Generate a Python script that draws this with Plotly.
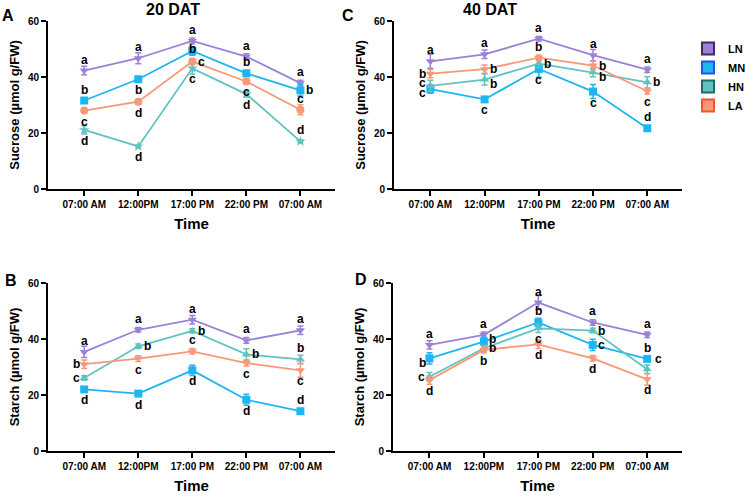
import plotly.graph_objects as go

# time points
times = ["07:00 AM", "12:00PM", "17:00 PM", "22:00 PM", "07:00 AM"]
xpos = [0, 1, 2, 3, 4]

treatments = ["LN", "MN", "HN", "LA"]
line_colors = {"LN": "#9b82d6", "MN": "#1eb6f2", "HN": "#62c2c2", "LA": "#f89878"}
edge_colors = {"LN": "#3b2a66", "MN": "#1f55e0", "HN": "#1e6b6b", "LA": "#f0562a"}

# A - sucrose, 20 DAT
sucA_LN = [42.3, 46.7, 52.9, 47.3, 37.8]
sucA_MN = [31.6, 39.2, 49.3, 41.3, 35.2]
sucA_HN = [21.1, 15.2, 43.1, 33.9, 17.0]
sucA_LA = [28.0, 31.2, 45.5, 38.4, 28.3]
errA_LN = [1.5, 2.0, 1.0, 1.0, 1.0]
errA_MN = [0.8, 0.8, 1.5, 1.0, 2.0]
errA_HN = [1.5, 0.5, 2.0, 1.0, 0.5]
errA_LA = [0.8, 0.8, 1.0, 1.0, 1.8]
letA_LN = ["a", "a", "a", "a", "a"]
letA_MN = ["b", "b", "b", "b", "b"]
letA_HN = ["d", "d", "c", "d", "d"]
letA_LA = ["c", "d", "c", "c", "c"]

# C - sucrose, 40 DAT
sucC_LN = [45.6, 48.1, 53.7, 47.8, 42.6]
sucC_MN = [35.7, 32.0, 42.9, 34.8, 21.7]
sucC_HN = [36.8, 39.1, 44.8, 41.6, 38.1]
sucC_LA = [41.2, 42.8, 46.9, 44.1, 34.9]
errC_LN = [2.5, 1.5, 0.8, 2.0, 1.0]
errC_MN = [1.5, 0.8, 3.0, 2.5, 0.8]
errC_HN = [2.0, 2.0, 1.5, 1.5, 2.0]
errC_LA = [1.5, 1.5, 1.0, 1.5, 1.0]
letC_LN = ["a", "a", "a", "a", "a"]
letC_MN = ["c", "c", "c", "c", "d"]
letC_HN = ["c", "b", "b", "b", "b"]
letC_LA = ["b", "b", "b", "b", "c"]

# B - starch, 20 DAT
staB_LN = [35.4, 43.3, 46.9, 39.5, 43.1]
staB_MN = [22.0, 20.5, 28.8, 18.3, 14.2]
staB_HN = [26.1, 37.4, 42.9, 34.5, 32.7]
staB_LA = [31.0, 33.0, 35.6, 31.4, 28.8]
errB_LN = [2.0, 0.8, 1.5, 1.0, 1.5]
errB_MN = [0.8, 0.8, 1.8, 2.0, 0.8]
errB_HN = [0.8, 0.8, 0.8, 2.0, 1.5]
errB_LA = [1.5, 1.0, 1.0, 1.0, 2.5]
letB_LN = ["a", "a", "a", "a", "a"]
letB_MN = ["d", "d", "d", "d", "d"]
letB_HN = ["c", "b", "b", "b", "b"]
letB_LA = ["b", "c", "c", "c", "c"]

# D - starch, 40 DAT
staD_LN = [37.9, 41.5, 53.0, 45.9, 41.5]
staD_MN = [33.1, 39.1, 45.9, 37.9, 32.9]
staD_HN = [26.5, 36.7, 43.8, 43.0, 29.2]
staD_LA = [25.3, 36.1, 38.1, 33.1, 25.6]
errD_LN = [1.5, 1.0, 2.5, 1.0, 1.0]
errD_MN = [2.0, 1.5, 1.5, 2.0, 0.8]
errD_HN = [1.5, 1.0, 1.5, 0.8, 1.5]
errD_LA = [1.5, 1.0, 1.5, 1.0, 2.0]
letD_LN = ["a", "a", "a", "a", "a"]
letD_MN = ["b", "b", "b", "c", "b"]
letD_HN = ["c", "b", "c", "b", "c"]
letD_LA = ["d", "b", "d", "d", "d"]

# where each letter sits relative to its point
place = {
    "A": {"LN": ["t"] * 5, "MN": ["t", "b", "on", "t", "r"],
          "HN": ["b", "b", "b", "b", "t"], "LA": ["b", "b", "r", "b", "t"]},
    "C": {"LN": ["t"] * 5, "MN": ["lb", "b", "b", "b", "t"],
          "HN": ["lt", "br", "r", "br", "r"], "LA": ["l", "r", "t", "r", "b"]},
    "B": {"LN": ["t"] * 5, "MN": ["b", "b", "b", "b", "t"],
          "HN": ["l", "r", "r", "r", "t"], "LA": ["l", "b", "t", "b", "b"]},
    "D": {"LN": ["t"] * 5, "MN": ["bl", "rt", "t", "r", "t"],
          "HN": ["l", "r", "b", "r", "tr"], "LA": ["b", "b", "b", "b", "b"]},
}
shifts = {"t": (0, 11), "b": (0, -11), "r": (9, 0), "l": (-8, 0), "on": (0, 2),
          "br": (9, -4), "bl": (-7, -5), "tr": (11, 10), "rt": (9, 3),
          "lt": (-8, 3), "lb": (-8, -4)}

panels = {
    "A": ("x", "y", [sucA_LN, sucA_MN, sucA_HN, sucA_LA], [errA_LN, errA_MN, errA_HN, errA_LA],
          [letA_LN, letA_MN, letA_HN, letA_LA]),
    "C": ("x2", "y2", [sucC_LN, sucC_MN, sucC_HN, sucC_LA], [errC_LN, errC_MN, errC_HN, errC_LA],
          [letC_LN, letC_MN, letC_HN, letC_LA]),
    "B": ("x3", "y3", [staB_LN, staB_MN, staB_HN, staB_LA], [errB_LN, errB_MN, errB_HN, errB_LA],
          [letB_LN, letB_MN, letB_HN, letB_LA]),
    "D": ("x4", "y4", [staD_LN, staD_MN, staD_HN, staD_LA], [errD_LN, errD_MN, errD_HN, errD_LA],
          [letD_LN, letD_MN, letD_HN, letD_LA]),
}

symbols = {"LN": "triangle-down", "MN": "square", "HN": "triangle-up", "LA": "triangle-down"}

FONT = "Liberation Sans, Arial, sans-serif"
W, H = 749, 497

fig = go.Figure()
annotations = []

for key, (xa, ya, vals, errs, lets) in panels.items():
    for t, v, e, lt in zip(treatments, vals, errs, lets):
        sym = symbols[t]
        if key == "A" and t == "LA":
            sym = "circle"
        if key == "A" and t == "HN":
            sym = "star"
        fig.add_trace(go.Scatter(
            x=xpos, y=v, xaxis=xa, yaxis=ya, mode="lines+markers",
            line=dict(color=line_colors[t], width=1.8),
            marker=dict(symbol=sym, size=8, color=line_colors[t]),
            error_y=dict(type="data", array=e, color=line_colors[t], thickness=1.5, width=3),
            showlegend=False, name=t,
        ))
        for i in range(5):
            dx, dy = shifts[place[key][t][i]]
            annotations.append(dict(
                x=xpos[i], y=v[i], xref=xa, yref=ya, text=lt[i], showarrow=False,
                xshift=dx, yshift=dy, font=dict(family=FONT, size=12, color="black", weight="bold"),
            ))

# legend entries shown as filled boxes
for t in treatments:
    fig.add_trace(go.Bar(x=[None], y=[None], xaxis="x2", yaxis="y2", name=t,
                         marker=dict(color=line_colors[t], line=dict(color=edge_colors[t], width=2))))


def px_x(p):
    return p / W


def px_y(p):
    return 1 - p / H


# panel headings and letters
for txt, cx, cy, size in [("20 DAT", 173, 9, 16), ("40 DAT", 490, 9, 16),
                          ("A", 8, 16, 16), ("C", 348, 16, 16),
                          ("B", 11, 280, 16), ("D", 361, 279, 16)]:
    annotations.append(dict(x=px_x(cx), y=px_y(cy), xref="paper", yref="paper", text=txt,
                            showarrow=False, xanchor="center", yanchor="middle",
                            font=dict(family=FONT, size=size, color="black", weight="bold")))

tickfont = dict(family=FONT, size=10, color="black", weight="bold")
titlefont = dict(family=FONT, size=13, color="black", weight="bold")
timefont = dict(family=FONT, size=15, color="black", weight="bold")

xdoms = {"x": (48, 335), "x2": (394, 682), "x3": (48, 335), "x4": (393, 682)}
ydoms = {"y": (21, 189), "y2": (21, 189), "y3": (283, 451), "y4": (283, 451)}
ytitles = {"y": "Sucrose (µmol g/FW)", "y2": "Sucrose (µmol g/FW)",
           "y3": "Starch (µmol g/FW)", "y4": "Starch (µmol g/FW)"}

layout = {}
for xa, ya in [("x", "y"), ("x2", "y2"), ("x3", "y3"), ("x4", "y4")]:
    xname = "xaxis" if xa == "x" else "xaxis" + xa[1:]
    yname = "yaxis" if ya == "y" else "yaxis" + ya[1:]
    x0, x1 = xdoms[xa]
    y0, y1 = ydoms[ya]
    layout[xname] = dict(
        domain=[px_x(x0), px_x(x1)], anchor=ya, range=[-0.67, 4.64], automargin=False,
        tickvals=xpos, ticktext=times, tickfont=tickfont,
        showline=True, linecolor="black", linewidth=2, ticks="outside",
        ticklen=5, tickwidth=2, tickcolor="black", showgrid=False, zeroline=False,
        title=dict(text="Time", font=timefont, standoff=9),
    )
    layout[yname] = dict(
        domain=[px_y(y1), px_y(y0)], anchor=xa, range=[0, 60], automargin=False,
        tickvals=[0, 20, 40, 60], tickfont=tickfont,
        showline=True, linecolor="black", linewidth=2, ticks="outside",
        ticklen=5, tickwidth=2, tickcolor="black", showgrid=False, zeroline=False,
        title=dict(text=ytitles[ya], font=titlefont, standoff=5),
    )

fig.update_layout(
    width=W, height=H, margin=dict(l=0, r=0, t=0, b=0, autoexpand=False),
    paper_bgcolor="white", plot_bgcolor="white",
    font=dict(family=FONT, color="black"),
    annotations=annotations,
    legend=dict(x=px_x(688), y=px_y(34), xanchor="left", yanchor="top", itemwidth=30,
                font=dict(family=FONT, size=11, color="black", weight="bold"),
                bgcolor="rgba(0,0,0,0)"),
    **layout,
)

# drop the browser's default page margin so the figure sits at the window corner
fig.write_html("out.html", config={"displayModeBar": False},
               post_script="document.body.style.margin = '0px';")
